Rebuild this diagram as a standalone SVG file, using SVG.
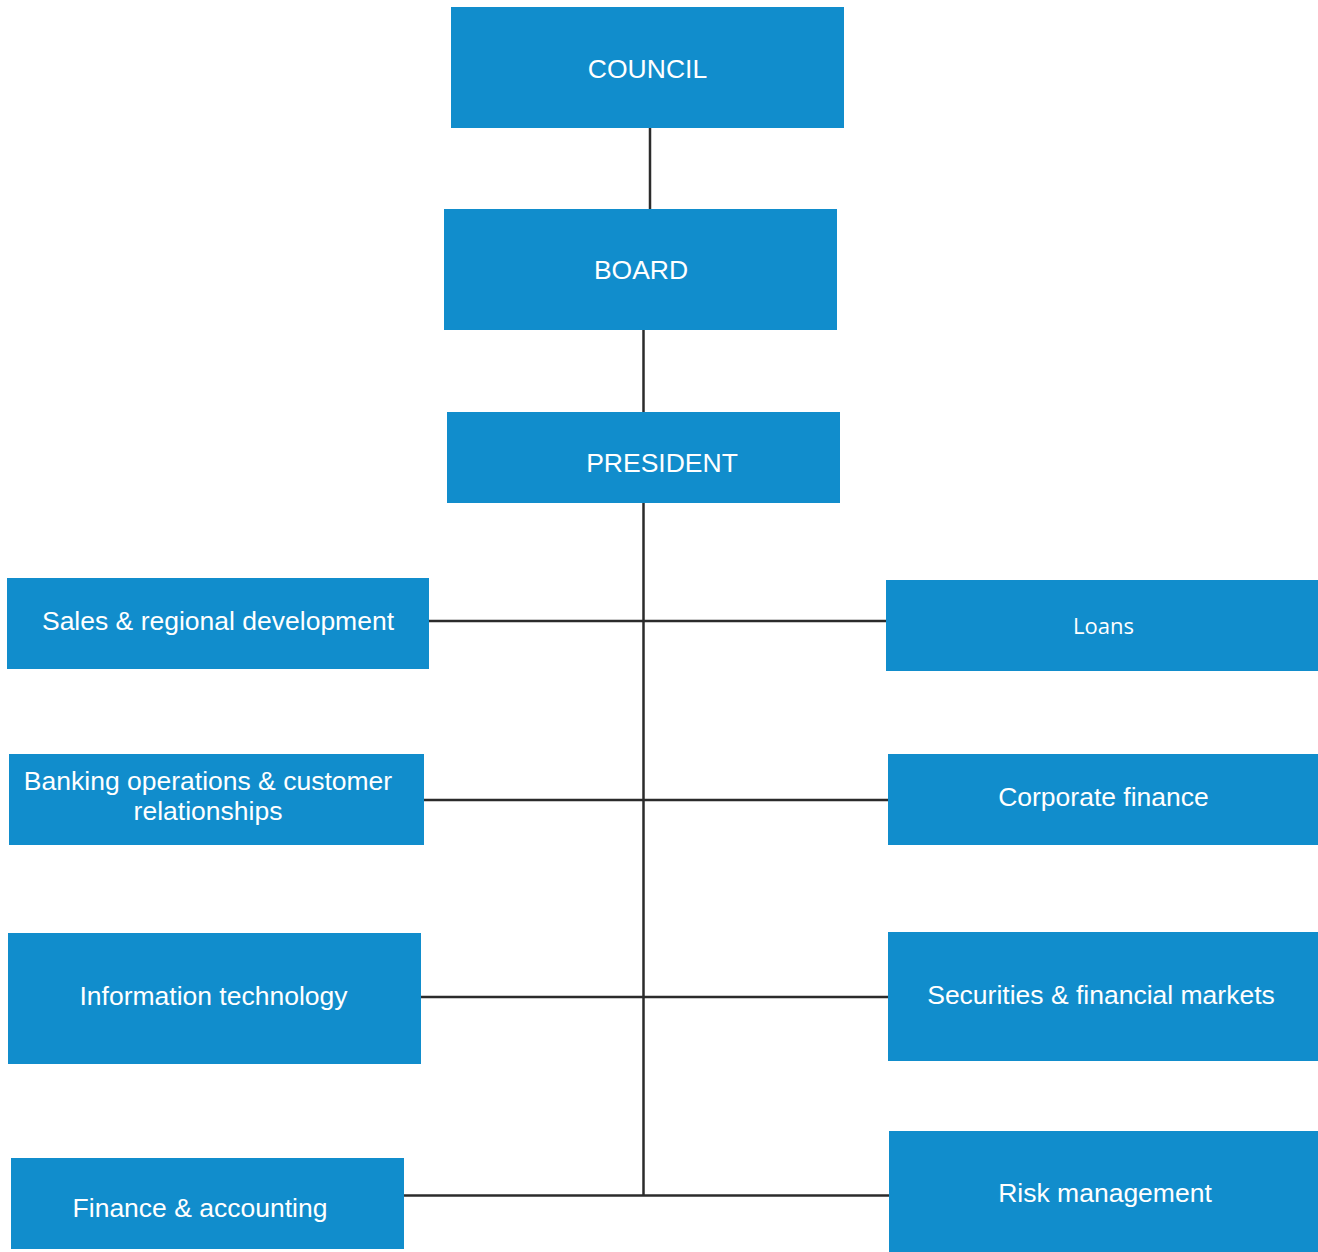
<svg xmlns="http://www.w3.org/2000/svg" width="1318" height="1252" viewBox="0 0 1318 1252">
<style>
.box{fill:#118dcc}
.t{font-family:"Liberation Sans",Arial,sans-serif;font-size:26.5px;fill:#ffffff;text-anchor:middle}
.o{font-family:"Open Sans","Noto Sans",sans-serif;font-size:22px;fill:#ffffff;text-anchor:middle}
.c{stroke:#2b2b2b;stroke-width:2.5;fill:none}
</style>
<rect width="1318" height="1252" fill="#ffffff"/>
<g id="connectors">
<line class="c" x1="650" y1="127" x2="650" y2="210"/>
<line class="c" x1="643.5" y1="329" x2="643.5" y2="413"/>
<line class="c" x1="643.5" y1="502" x2="643.5" y2="1196"/>
<line class="c" x1="428" y1="621" x2="887" y2="621"/>
<line class="c" x1="423" y1="800" x2="889" y2="800"/>
<line class="c" x1="420" y1="997" x2="889" y2="997"/>
<line class="c" x1="403" y1="1195.5" x2="890" y2="1195.5"/>
</g>
<g id="council"><rect class="box" x="451" y="7" width="393" height="121"/><text class="t" x="647.5" y="78">COUNCIL</text></g>
<g id="board"><rect class="box" x="444" y="209" width="393" height="121"/><text class="t" x="641" y="279">BOARD</text></g>
<g id="president"><rect class="box" x="447" y="412" width="393" height="91"/><text class="t" x="662" y="472">PRESIDENT</text></g>
<g id="sales"><rect class="box" x="7" y="578" width="422" height="91"/><text class="t" x="218" y="630">Sales &amp; regional development</text></g>
<g id="loans"><rect class="box" x="886" y="580" width="432" height="91"/><text class="o" x="1103.5" y="634">Loans</text></g>
<g id="banking"><rect class="box" x="9" y="754" width="415" height="91"/><text class="t" x="208" y="790">Banking operations &amp; customer</text><text class="t" x="208" y="820">relationships</text></g>
<g id="corporate"><rect class="box" x="888" y="754" width="430" height="91"/><text class="t" x="1103.5" y="806">Corporate finance</text></g>
<g id="it"><rect class="box" x="8" y="933" width="413" height="131"/><text class="t" x="213.5" y="1005">Information technology</text></g>
<g id="securities"><rect class="box" x="888" y="932" width="430" height="129"/><text class="t" x="1101" y="1004">Securities &amp; financial markets</text></g>
<g id="finance"><rect class="box" x="11" y="1158" width="393" height="91"/><text class="t" x="200" y="1217">Finance &amp; accounting</text></g>
<g id="risk"><rect class="box" x="889" y="1131" width="429" height="121"/><text class="t" x="1105" y="1202">Risk management</text></g>
</svg>
